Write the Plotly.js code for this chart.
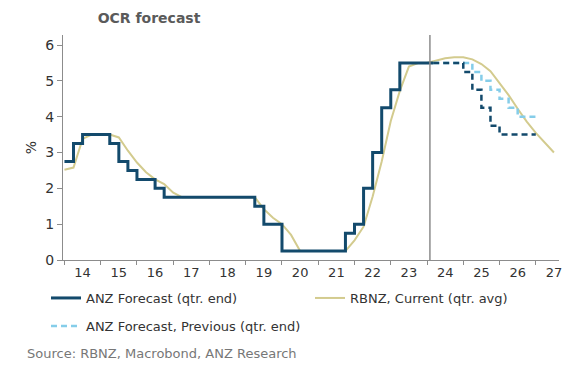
<!DOCTYPE html>
<html><head><meta charset="utf-8">
<script src="https://cdn.plot.ly/plotly-3.0.1.min.js"></script>
<style>html,body{margin:0;padding:0;background:#fff}#chart{width:581px;height:371px}</style>
</head><body><div id="chart"></div>
<script>
// ANZ Forecast (qtr. end) - history, quarterly steps (decimal years)
const anzHistX = [2014,2014.25,2014.5,2014.75,2015,2015.25,2015.5,2015.75,2016,2016.25,2016.5,2016.75,
  2017,2017.25,2017.5,2017.75,2018,2018.25,2018.5,2018.75,2019,2019.25,2019.5,2019.75,
  2020,2020.25,2020.5,2020.75,2021,2021.25,2021.5,2021.75,2022,2022.25,2022.5,2022.75,
  2023,2023.25,2023.5,2023.75,2024,2024.17];
const anzHistY = [2.75,3.25,3.5,3.5, 3.5,3.25,2.75,2.5, 2.25,2.25,2.0,1.75,
  1.75,1.75,1.75,1.75, 1.75,1.75,1.75,1.75, 1.75,1.5,1.0,1.0,
  0.25,0.25,0.25,0.25, 0.25,0.25,0.25,0.75, 1.0,2.0,3.0,4.25,
  4.75,5.5,5.5,5.5, 5.5,5.5];

// ANZ Forecast (current) and previous forecast
const fcX = [2024.17,2024.25,2024.5,2024.75,2025,2025.25,2025.5,2025.75,2026,2026.25,2026.5,2026.75,2027];
const anzFcY = [5.5,5.5,5.5,5.5,5.25,4.75,4.25,3.75,3.5,3.5,3.5,3.5,3.5];
const anzPrevY = [5.5,5.5,5.5,5.5,5.5,5.25,5.0,4.75,4.5,4.25,4.0,4.0,4.0];

// RBNZ, Current (qtr. avg)
const rbnzX = [2014,2014.25,2014.5,2014.75,2015,2015.25,2015.5,2015.75,2016,2016.25,2016.5,2016.75,
  2017,2017.25,2017.5,2017.75,2018,2018.25,2018.5,2018.75,2019,2019.25,2019.5,2019.75,
  2020,2020.25,2020.5,2020.75,2021,2021.25,2021.5,2021.75,2022,2022.25,2022.5,2022.75,
  2023,2023.25,2023.5,2023.75,2024,2024.25,2024.5,2024.75,2025,2025.25,2025.5,2025.75,
  2026,2026.25,2026.5,2026.75,2027,2027.25,2027.5];
const rbnzY = [2.52,2.58,3.38,3.5, 3.5,3.5,3.42,3.05, 2.72,2.45,2.25,2.12,
  1.88,1.75,1.75,1.75, 1.75,1.75,1.75,1.75, 1.75,1.75,1.42,1.18,
  1.0,0.7,0.25,0.25, 0.25,0.25,0.25,0.25, 0.55,0.93,1.77,2.75,
  3.88,4.72,5.4,5.5, 5.5,5.57,5.63,5.66, 5.66,5.6,5.47,5.27,
  4.95,4.6,4.22,3.86, 3.55,3.28,3.0];

const years = [2014,2015,2016,2017,2018,2019,2020,2021,2022,2023,2024,2025,2026,2027];
const yearLabels = ['14','15','16','17','18','19','20','21','22','23','24','25','26','27'];
const nowLine = 2024.08;

const cNavy = '#134a6c', cKhaki = '#d3cb8e', cLight = '#85cde9', cAxis = '#8c8c8c';

const traces = [
  {x: rbnzX, y: rbnzY, type:'scatter', mode:'lines', name:'RBNZ, Current (qtr. avg)',
   line:{color:cKhaki, width:2}, legend:'legend3'},
  {x: fcX, y: anzPrevY, type:'scatter', mode:'lines', name:'ANZ Forecast, Previous (qtr. end)',
   line:{color:cLight, width:2.5, shape:'hv', dash:'6px,4px'}, legend:'legend2'},
  {x: fcX, y: anzFcY, type:'scatter', mode:'lines', name:'ANZ Forecast (qtr. end)', showlegend:false,
   line:{color:cNavy, width:2.5, shape:'hv', dash:'6px,4px'}},
  {x: anzHistX, y: anzHistY, type:'scatter', mode:'lines', name:'ANZ Forecast (qtr. end)',
   line:{color:cNavy, width:3, shape:'hv'}, legend:'legend'}
];

const legBase = {orientation:'h', xref:'container', yref:'container', xanchor:'left', yanchor:'middle',
  itemwidth:30, font:{size:13, color:'#333'}, bgcolor:'rgba(0,0,0,0)'};

const layout = {
  width:581, height:371,
  margin:{l:63, r:22, t:35, b:111},
  paper_bgcolor:'#fff', plot_bgcolor:'#fff',
  font:{family:'DejaVu Sans, Verdana, sans-serif', size:13, color:'#333'},
  showlegend:true,
  title:{text:'<b>OCR forecast</b>', font:{size:14, color:'#5a5a5a'},
    xref:'container', x:149/581, xanchor:'center', yref:'container', y:1-18/371, yanchor:'middle'},
  xaxis:{range:[2013.96, 2027.64], tickmode:'array', tickvals: years.map(v=>v+0.5), ticktext: yearLabels,
    ticks:'', showline:true, linecolor:cAxis, linewidth:1, showgrid:false, zeroline:false,
    tickfont:{size:13, color:'#333'},
    minor:{tickmode:'array', tickvals: years, ticks:'outside', ticklen:4, tickcolor:cAxis, tickwidth:1, showgrid:false}},
  yaxis:{range:[0, 6.28], tickmode:'array', tickvals:[0,1,2,3,4,5,6], ticks:'outside', ticklen:5,
    tickcolor:cAxis, showline:true, linecolor:cAxis, linewidth:1, showgrid:false, zeroline:false,
    tickfont:{size:14, color:'#333'}, title:{text:'%', font:{size:14, color:'#333'}, standoff:5}},
  shapes:[{type:'line', xref:'x', yref:'paper', x0:nowLine, x1:nowLine, y0:0, y1:1,
    line:{color:cAxis, width:1.5}}],
  legend:Object.assign({}, legBase, {x:46/581, y:1-298/371}),
  legend3:Object.assign({}, legBase, {x:310/581, y:1-298/371}),
  legend2:Object.assign({}, legBase, {x:46/581, y:1-326/371}),
  annotations:[{text:'Source: RBNZ, Macrobond, ANZ Research', xref:'paper', yref:'paper',
    x:(25-63)/496, y:(260-353)/225, xanchor:'left', yanchor:'middle', showarrow:false,
    font:{size:13, color:'#777'}}]
};

Plotly.newPlot('chart', traces, layout, {displayModeBar:false, staticPlot:true});
</script></body></html>
